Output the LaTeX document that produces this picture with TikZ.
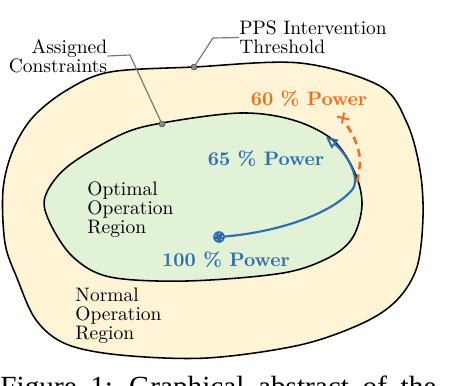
\documentclass[tikz,border=0pt]{standalone}
\usepackage{fontspec}
\newfontfamily\capfont{Liberation Serif}
\usetikzlibrary{arrows.meta}
\definecolor{outerfill}{HTML}{FFF4D6}
\definecolor{innerfill}{HTML}{E1F2D6}
\definecolor{pblue}{HTML}{2C6DB3}
\definecolor{porange}{HTML}{FA6A18}
\definecolor{leadgray}{HTML}{777777}
\tikzset{
  region/.style={draw=black, line width=0.8pt},
  lbl/.style={inner sep=0pt, font=\fontsize{10}{9.75}\selectfont},
  bluelbl/.style={inner sep=0pt, font=\fontsize{10}{12}\selectfont\bfseries, text=pblue},
  orangelbl/.style={inner sep=0pt, font=\fontsize{10}{12}\selectfont\bfseries, text=porange},
  leader/.style={draw=leadgray, line width=0.6pt},
  leaddot/.style={circle, fill=leadgray!85, draw=leadgray!60!black, line width=0.3pt, inner sep=0pt, minimum size=3pt},
  bluepath/.style={draw=pblue, line width=1.1pt},
  orangepath/.style={draw=porange, line width=1.3pt, dash pattern=on 4pt off 2.6pt},
}
\begin{document}
\begin{tikzpicture}[x=0.513pt, y=-0.513pt]
\useasboundingbox (0,0) rectangle (458,386);
\fill[white] (0,0) rectangle (458,386);
% outer region
\filldraw[region, fill=outerfill] plot[smooth cycle, tension=0.55] coordinates {
 (110,72) (194,67) (300,63) (380,86) (407,123) (420,170) (423,217) (417,267)
 (397,300) (363,323) (300,345) (207,358) (120,355) (66,344) (36,320) (17,278)
 (5,243) (3,190) (13,150) (33,117) (67,90)};
% inner region
\filldraw[region, fill=innerfill] plot[smooth cycle, tension=0.55] coordinates {
 (120,135) (162,123) (240,113) (293,120) (333,140) (355,173) (362,205) (353,237)
 (330,257) (283,273) (187,281) (110,277) (73,257) (50,223) (45,197) (67,167)};
% region labels
\node[lbl, align=left, anchor=west] (opt) at (87,210) {Optimal\\Operation\\Region};
\node[lbl, align=left, anchor=west] (norm) at (75,316) {Normal\\Operation\\Region};
% leaders
\node[lbl, align=right, anchor=east] (assigned) at (107.5,56) {Assigned\\Constraints};
\node[lbl, align=left, anchor=west] (pps) at (239,37.5) {PPS Intervention\\Threshold};
\node[leaddot] (acdot) at (162,124) {};
\node[leaddot] (ppsdot) at (194,67) {};
\coordinate (acbend) at (130,55);
\coordinate (ppsbend) at (213,38);
\draw[leader] (assigned.east) -- (acbend) -- (acdot);
\draw[leader] (ppsdot) -- (ppsbend) -- (pps.west);
% orange dashed path and cross
\coordinate (cross) at (343,118);
\coordinate (split) at (357,182);
\draw[orangepath] plot[smooth, tension=0.6] coordinates {(357,182) (360,160) (355,140) (346,124)};
\draw[porange, line width=1pt] (cross) ++(-6,-1.3) -- ++(12,2.6)
                               (cross) ++(1.1,-5.5) -- ++(-2.2,11);
% blue trajectory
\coordinate (start) at (219,237);
\coordinate (tip) at (326,137);
\draw[bluepath, -{Triangle[open, length=6pt, width=5.6pt, line width=1pt]}]
  (start) .. controls (275,233) and (330,215) .. (352,190)
          .. controls (362,178) and (345,152) .. (tip);
\fill[pblue] (start) circle[radius=3pt];
\draw[white, line width=0.45pt, dotted] (start) circle[radius=1.9pt];
% power labels
\node[orangelbl, anchor=base] (p60) at (309,105.5) {60 \% Power};
\node[bluelbl, anchor=base] (p65) at (266,165) {65 \% Power};
\node[bluelbl, anchor=base] (p100) at (226,266) {100 \% Power};
% caption (cropped at the lower edge, as in the reference)
\node[inner sep=0pt, anchor=base west, font=\capfont\fontsize{15}{17}\selectfont] (cap) at (0,396)
  {\spaceskip=7pt plus 1pt\relax Figure 1: Graphical abstract of the};
\end{tikzpicture}
\end{document}
